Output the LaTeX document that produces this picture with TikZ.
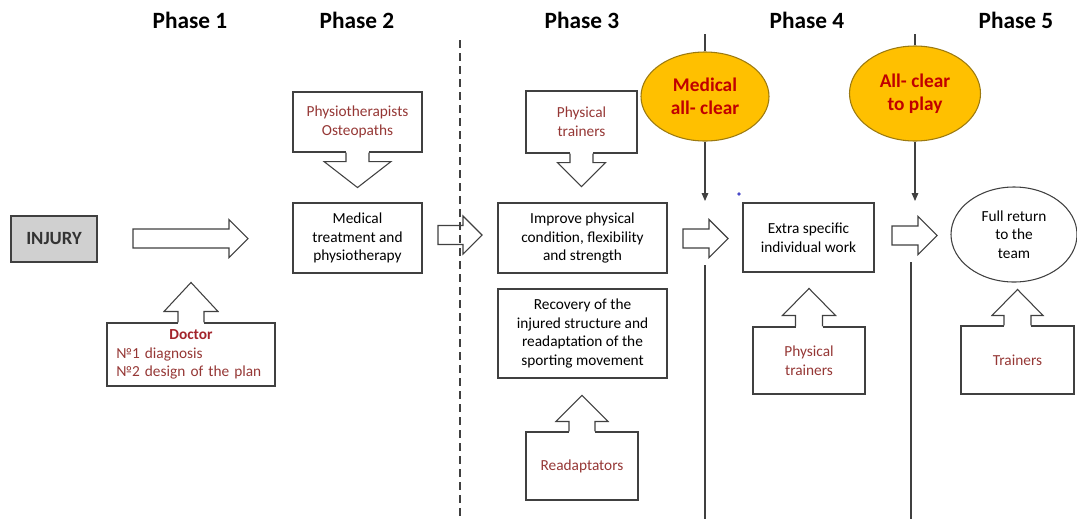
\documentclass[tikz,border=0pt]{standalone}
\usepackage{fontspec}
\setmainfont{Carlito}
\usetikzlibrary{arrows.meta,shapes.geometric}
\definecolor{boxred}{HTML}{953735}
\definecolor{docred}{HTML}{A3242B}
\definecolor{clearred}{HTML}{C00000}
\definecolor{goldfill}{HTML}{FFC000}
\definecolor{goldline}{HTML}{9C7A10}
\definecolor{linegray}{HTML}{404040}
\definecolor{injurygray}{HTML}{D0D0D0}
\definecolor{dotblue}{HTML}{4A4AC8}

\begin{document}
\begin{tikzpicture}[x=0.75pt,y=-0.75pt,
dims/.style 2 args={minimum width=#1*0.75pt,minimum height=#2*0.75pt},
box/.style={draw=linegray,line width=0.8pt,align=center,inner sep=0pt,font=\fontsize{11.5}{14}\selectfont},
helper/.style={box,text=boxred},
gate/.style={ellipse,draw=goldline,fill=goldfill,line width=0.8pt,inner sep=0pt,align=center,text=clearred,font=\fontsize{14.5}{17.5}\selectfont\bfseries},
phase/.style={font=\fontsize{17.5}{20}\selectfont\bfseries},
gline/.style={linegray,line width=0.8pt},
divider/.style={gline,dash pattern=on 6pt off 3.75pt},
pics/blockarrow/.style={code={
  \draw[gline,line join=miter,fill=white] (0,-9.5) -- (#1-19,-9.5) -- (#1-19,-19) -- (#1,0)
    -- (#1-19,19) -- (#1-19,9.5) -- (0,9.5) -- cycle;}},
pics/calltip/.style n args={4}{code={
  \fill[white] (-#1,1.5) rectangle (#1,-#3);
  \draw[gline,line join=miter] (-#1,0) -- (-#1,-#3) -- (-#2,-#3) -- (0,-#4) -- (#2,-#3) -- (#1,-#3) -- (#1,0);}}]
\useasboundingbox (0,0) rectangle (1077,519);

% phase headings
\node[phase] (ph1) at (190,20) {Phase 1};
\node[phase] (ph2) at (357,20) {Phase 2};
\node[phase] (ph3) at (582,20) {Phase 3};
\node[phase] (ph4) at (807,20) {Phase 4};
\node[phase] (ph5) at (1016,20) {Phase 5};

% phase 1
\node[box,fill=injurygray,dims={86}{46},font=\fontsize{14}{17}\selectfont\bfseries,text=black!80] (injury) at (54,239) {INJURY};
\node[helper,dims={168}{63},text width=112pt,align=left] (doctor) at (191,354.5)
  {\makebox[112pt]{\textcolor{docred}{\bfseries Doctor}}\\№1 diagnosis\\№2 design of the plan};
\pic at (doctor.north) {calltip={13}{27}{11}{40}};
\pic at (133,238.5) {blockarrow=115};

% phase 2
\node[helper,dims={129}{60}] (physio) at (357.5,122) {Physiotherapists\\Osteopaths};
\node[box,dims={129}{70}] (treat) at (357.5,238) {Medical\\treatment and\\physiotherapy};
\pic[rotate=180] at (physio.south) {calltip={11.5}{33.5}{9}{35}};
\pic at (438,235) {blockarrow=44};
\coordinate (divtop) at (460,40);
\coordinate (divend) at (460,519);
\draw[divider] (divtop) -- (divend);

% phase 3
\node[helper,dims={111}{62}] (ptrainA) at (581.5,122) {Physical\\trainers};
\node[box,dims={169}{70}] (improve) at (582.5,238) {Improve physical\\condition, flexibility\\and strength};
\node[box,dims={169}{89}] (recovery) at (582.5,333.5) {Recovery of the\\injured structure and\\readaptation of the\\sporting movement};
\node[helper,dims={112}{68}] (readapt) at (582,466) {Readaptators};
\pic[rotate=180] at (ptrainA.south) {calltip={11.5}{24}{9}{33}};
\pic at (readapt.north) {calltip={13}{26}{10}{36}};
\pic at (683,238.5) {blockarrow=45};

% medical all-clear gate
\node[gate,dims={128}{89}] (medclear) at (705,96.5) {Medical\\all- clear};
\coordinate (gAtop) at (705,34);
\coordinate (gAarrow) at (705,201);
\coordinate (gAlow) at (705,265);
\coordinate (gAend) at (705,519);
\draw[gline] (gAtop) -- (medclear.north);
\draw[gline,-{Triangle[length=6pt,width=5pt]}] (medclear.south) -- (gAarrow);
\draw[gline] (gAlow) -- (gAend);
\fill[dotblue] (739,194) circle (1.8);

% phase 4
\node[box,dims={131}{69}] (extra) at (808.5,237.5) {Extra specific\\individual work};
\node[helper,dims={112}{67}] (ptrainB) at (809,360.5) {Physical\\trainers};
\pic at (ptrainB.north) {calltip={13.5}{26.5}{11}{38}};
\pic at (892,235.5) {blockarrow=45};

% all-clear to play gate
\node[gate,dims={131}{95}] (playclear) at (915,93.5) {All- clear\\to play};
\coordinate (gBtop) at (915,34);
\coordinate (gBarrow) at (915,201);
\coordinate (gBlow) at (911,262);
\coordinate (gBend) at (911,519);
\draw[gline] (gBtop) -- (playclear.north);
\draw[gline,-{Triangle[length=6pt,width=5pt]}] (playclear.south) -- (gBarrow);
\draw[gline] (gBlow) -- (gBend);

% phase 5
\node[box,ellipse,dims={126}{95}] (team) at (1014,234.5) {Full return\\to the\\team};
\node[helper,dims={113}{68}] (trainers) at (1017.5,360) {Trainers};
\pic at (trainers.north) {calltip={13.5}{25.5}{10}{36}};
\end{tikzpicture}
\end{document}
